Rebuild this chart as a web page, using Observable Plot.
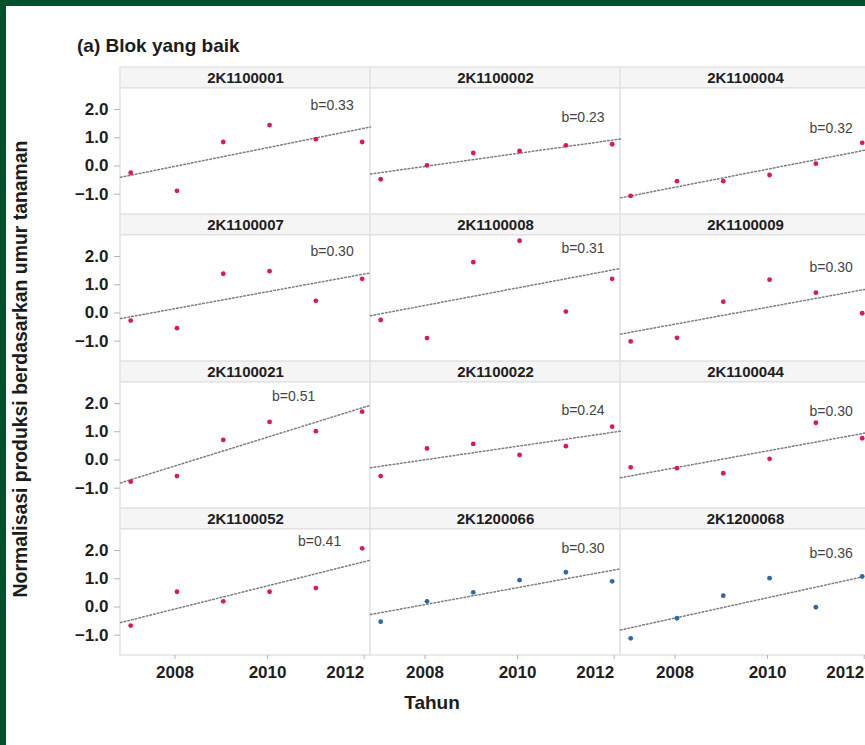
<!DOCTYPE html>
<html>
<head>
<meta charset="utf-8">
<script src="https://cdn.jsdelivr.net/npm/d3@7"></script>
<script src="https://cdn.jsdelivr.net/npm/@observablehq/plot@0.6"></script>
<style>
  html, body { margin: 0; padding: 0; width: 865px; height: 745px; overflow: hidden; background: #fff;
    font-family: "Liberation Sans", Arial, sans-serif; }
  #chart { position: absolute; left: 0; top: 0; width: 880px; height: 745px; }
  #chart svg { max-width: none !important; display: block; }
  #border { position: absolute; left: 0; top: 0; width: 865px; height: 745px; box-sizing: border-box;
    border-top: 6px solid #01502b; border-left: 6px solid #01502b; pointer-events: none; }
  #title { position: absolute; left: 77px; top: 46px; transform: translateY(-50%); font-weight: bold; font-size: 19px; color: #1c1c1c; white-space: nowrap; }
  #xlab { position: absolute; left: 432px; top: 703px; transform: translate(-50%, -50%); font-weight: bold; font-size: 19px; color: #1c1c1c; white-space: nowrap; }
  #ylab { position: absolute; left: 20px; top: 369px; transform: translate(-50%, -50%) rotate(-90deg); font-weight: bold; font-size: 19.4px; color: #1c1c1c; white-space: nowrap; }
</style>
</head>
<body>
<div id="chart"></div>
<div id="title">(a) Blok yang baik</div>
<div id="xlab">Tahun</div>
<div id="ylab">Normalisasi produksi berdasarkan umur tanaman</div>
<div id="border"></div>
<script>
// ---- data ----
const blok = ["2K1100001","2K1100002","2K1100004","2K1100007","2K1100008","2K1100009",
              "2K1100021","2K1100022","2K1100044","2K1100052","2K1200066","2K1200068"];
const tahun = [2007, 2008, 2009, 2010, 2011, 2012];
const n_2K1100001 = [-0.24, -0.88, 0.85, 1.45, 0.95, 0.85];
const n_2K1100002 = [-0.47, 0.02, 0.46, 0.53, 0.73, 0.77];
const n_2K1100004 = [-1.06, -0.54, -0.54, -0.32, 0.08, 0.82];
const n_2K1100007 = [-0.27, -0.54, 1.39, 1.48, 0.43, 1.21];
const n_2K1100008 = [-0.25, -0.89, 1.80, 2.56, 0.05, 1.21];
const n_2K1100009 = [-1.01, -0.88, 0.40, 1.18, 0.72, -0.01];
const n_2K1100021 = [-0.77, -0.57, 0.71, 1.35, 1.02, 1.71];
const n_2K1100022 = [-0.57, 0.41, 0.57, 0.18, 0.49, 1.18];
const n_2K1100044 = [-0.26, -0.29, -0.47, 0.04, 1.32, 0.77];
const n_2K1100052 = [-0.66, 0.54, 0.20, 0.54, 0.67, 2.08];
const n_2K1200066 = [-0.52, 0.20, 0.52, 0.95, 1.23, 0.91];
const n_2K1200068 = [-1.11, -0.40, 0.40, 1.02, -0.01, 1.08];
const kelompok = ["2K11","2K11","2K11","2K11","2K11","2K11","2K11","2K11","2K11","2K11","2K12","2K12"];
const kemiringan = [0.33, 0.23, 0.32, 0.30, 0.31, 0.30, 0.51, 0.24, 0.30, 0.41, 0.30, 0.36];
// annotation anchor (year, value) of the "b=" labels
const labelTahun = [2011.35, 2011.37, 2011.33, 2011.35, 2011.37, 2011.33, 2010.52, 2011.37, 2011.33, 2011.08, 2011.37, 2011.33];
const labelNilai = [2.14, 1.73, 1.33, 2.19, 2.30, 1.62, 2.24, 1.77, 1.73, 2.32, 2.08, 1.90];
const yTicks = [-1, 0, 1, 2];
const xTicksMid = [2008, 2010];
const xTicksEnd = [2012];

// ---- build tables ----
const nilaiPerBlok = [n_2K1100001, n_2K1100002, n_2K1100004, n_2K1100007, n_2K1100008, n_2K1100009,
                      n_2K1100021, n_2K1100022, n_2K1100044, n_2K1100052, n_2K1200066, n_2K1200068];
const xDom = [2006.78, 2012.18];
const yPanelTop = 2.75;           // top of the data panel
const yDom = [-1.72, 3.49];       // includes the strip above each panel

const points = blok.flatMap((b, i) => tahun.map((t, j) => ({
  blok: b, col: i % 3, row: Math.floor(i / 3), tahun: t, nilai: nilaiPerBlok[i][j], grup: kelompok[i]
})));
const panels = blok.map((b, i) => ({
  blok: b, col: i % 3, row: Math.floor(i / 3), b: kemiringan[i],
  lx: labelTahun[i], ly: labelNilai[i],
  xbar: d3.mean(tahun), ybar: d3.mean(nilaiPerBlok[i])
}));
const lines = panels.flatMap(p => xDom.map(x => ({ blok: p.blok, col: p.col, row: p.row, x, y: p.ybar + p.b * (x - p.xbar) })));

const axisStyle = { label: null, stroke: "#b5b5b5", fill: "#1e1e1e", fontWeight: "bold", fontSize: 17 };

const chart = Plot.plot({
  width: 880,
  height: 745,
  marginLeft: 120,
  marginRight: 10,
  marginTop: 66,
  marginBottom: 89,
  style: { fontFamily: "'Liberation Sans', Arial, sans-serif", background: "transparent", overflow: "visible" },
  x: { domain: xDom },
  y: { domain: yDom },
  fx: { domain: [0, 1, 2], padding: 0, axis: null },
  fy: { domain: [0, 1, 2, 3], padding: 0, axis: null },
  color: { domain: ["2K11", "2K12"], range: ["#d9195b", "#2f68a6"] },
  marks: [
    // strip background
    Plot.rect(panels, { fx: "col", fy: "row", x1: () => xDom[0], x2: () => xDom[1], y1: () => yPanelTop, y2: () => yDom[1],
      fill: "#f5f5f5", stroke: "#e3e3e3", strokeWidth: 1.5 }),
    // panel background
    Plot.rect(panels, { fx: "col", fy: "row", x1: () => xDom[0], x2: () => xDom[1], y1: () => yDom[0], y2: () => yPanelTop,
      fill: "#ffffff", stroke: "#e3e3e3", strokeWidth: 1.5 }),
    Plot.axisY({ ticks: yTicks, tickFormat: d3.format(".1f"), tickSize: 6, tickPadding: 6, ...axisStyle }),
    Plot.axisX({ ticks: xTicksMid, tickFormat: "d", tickSize: 4, tickPadding: 6, dx: -2, ...axisStyle }),
    Plot.axisX({ ticks: xTicksEnd, tickFormat: "d", tickSize: 4, tickPadding: 6, textAnchor: "end", dx: 2, ...axisStyle }),
    Plot.line(lines, { fx: "col", fy: "row", x: "x", y: "y", z: "blok", stroke: "#7d7d7d", strokeWidth: 1.5, strokeDasharray: "1.6,2.2" }),
    Plot.dot(points, { fx: "col", fy: "row", x: "tahun", y: "nilai", r: 2.4, fill: "grup", stroke: "none" }),
    Plot.text(panels, { fx: "col", fy: "row", x: "lx", y: "ly", text: d => "b=" + d.b.toFixed(2), fontSize: 14, fill: "#444" }),
    Plot.text(panels, { fx: "col", fy: "row", frameAnchor: "top", lineAnchor: "middle", dy: 10.5, text: "blok", fontWeight: "bold", fontSize: 15, fill: "#1e1e1e" })
  ]
});
document.getElementById("chart").append(chart);
</script>
</body>
</html>
